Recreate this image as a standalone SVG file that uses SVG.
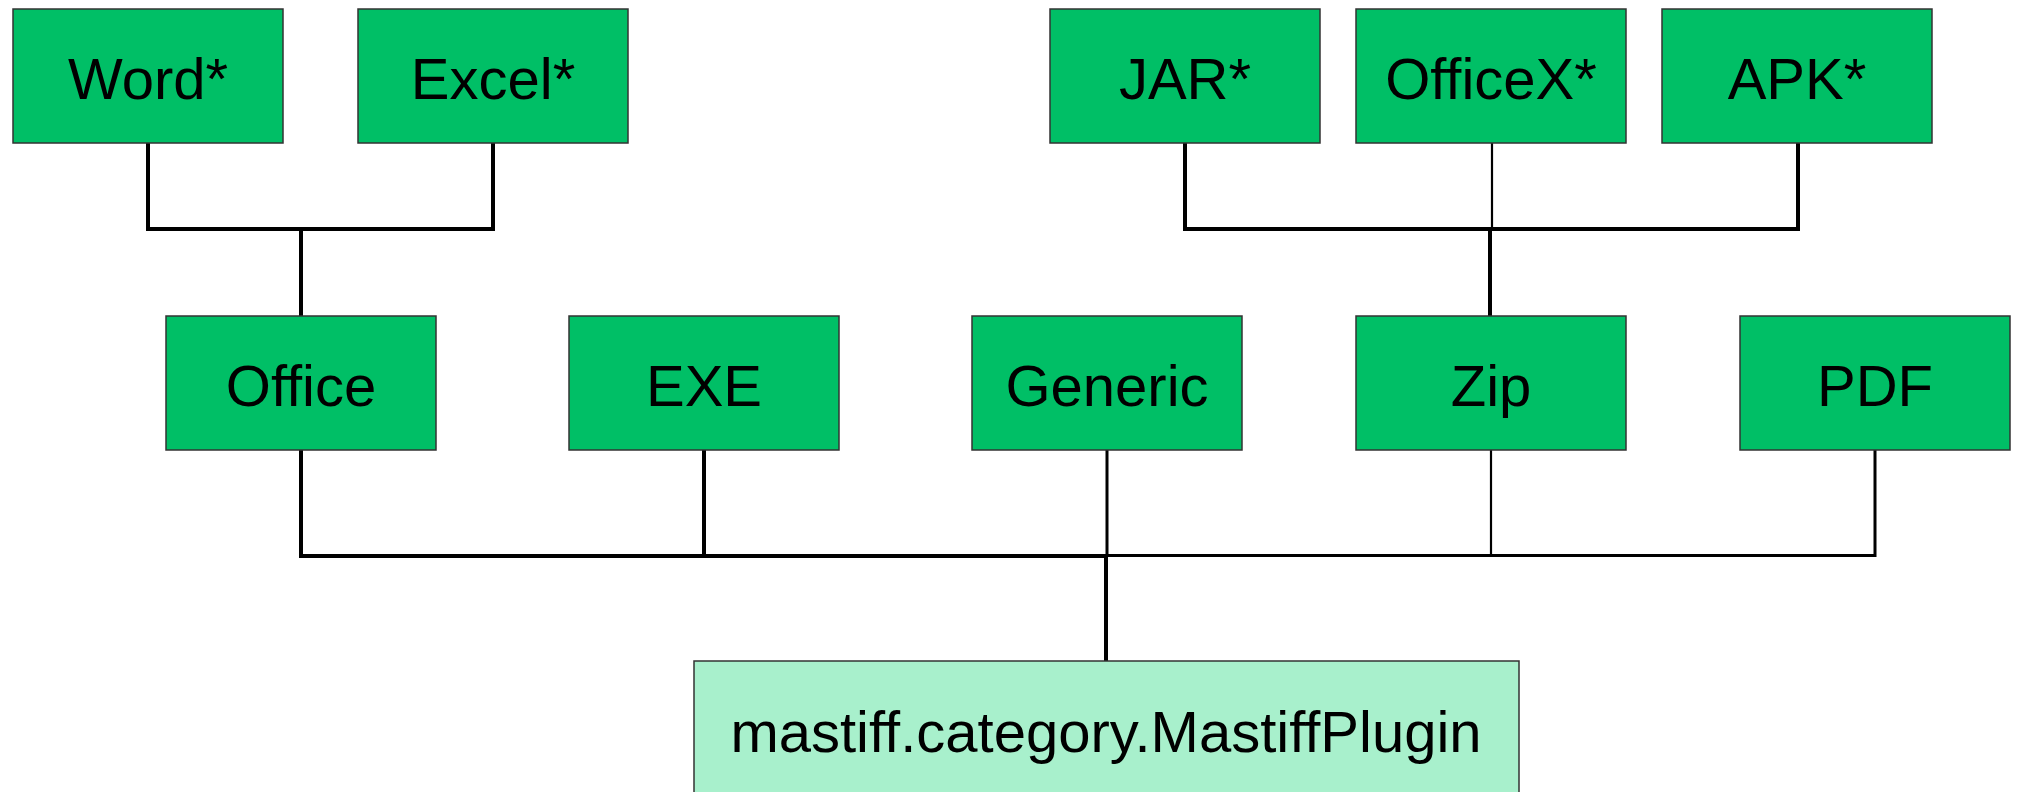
<svg xmlns="http://www.w3.org/2000/svg" width="2019" height="792" viewBox="0 0 2019 792">
<style>
.box{fill:#00BF66;stroke:#333;stroke-width:1.5}
.base{fill:#A8F0CC;stroke:#333;stroke-width:1.5}
.t{font-family:"Liberation Sans",Arial,sans-serif;font-size:58px;fill:#000;text-anchor:middle}
.thick{stroke:#000;stroke-width:4;fill:none}
.mid{stroke:#000;stroke-width:3;fill:none}
.thin{stroke:#000;stroke-width:2.2;fill:none}
</style>
<rect width="2019" height="792" fill="#fff"/>
<g id="connectors">
<path class="thick" d="M148 143V229M493 143V229M146 229H495M301 229V316"/>
<path class="thick" d="M1185 143V229M1798 143V229M1183 229H1800M1490 229V316"/>
<path class="thin" d="M1492 143V229"/>
<path class="thick" d="M301 450V556M704 450V556M299 556H1107M1106 556V661"/>
<path class="mid" d="M1107 450V556M1875 450V556M1107 555.5H1876.5"/>
<path class="thin" d="M1491 450V556"/>
</g>
<g id="word"><rect class="box" x="13" y="9" width="270" height="134"/><text class="t" x="148" y="99">Word*</text></g>
<g id="excel"><rect class="box" x="358" y="9" width="270" height="134"/><text class="t" x="493" y="99">Excel*</text></g>
<g id="jar"><rect class="box" x="1050" y="9" width="270" height="134"/><text class="t" x="1185" y="99">JAR*</text></g>
<g id="officex"><rect class="box" x="1356" y="9" width="270" height="134"/><text class="t" x="1491" y="99">OfficeX*</text></g>
<g id="apk"><rect class="box" x="1662" y="9" width="270" height="134"/><text class="t" x="1797" y="99">APK*</text></g>
<g id="office"><rect class="box" x="166" y="316" width="270" height="134"/><text class="t" x="301" y="406">Office</text></g>
<g id="exe"><rect class="box" x="569" y="316" width="270" height="134"/><text class="t" x="704" y="406">EXE</text></g>
<g id="generic"><rect class="box" x="972" y="316" width="270" height="134"/><text class="t" x="1107" y="406">Generic</text></g>
<g id="zip"><rect class="box" x="1356" y="316" width="270" height="134"/><text class="t" x="1491" y="406">Zip</text></g>
<g id="pdf"><rect class="box" x="1740" y="316" width="270" height="134"/><text class="t" x="1875" y="406">PDF</text></g>
<g id="mastiffplugin"><rect class="base" x="694" y="661" width="825" height="140"/><text class="t" x="1106" y="752">mastiff.category.MastiffPlugin</text></g>
</svg>
